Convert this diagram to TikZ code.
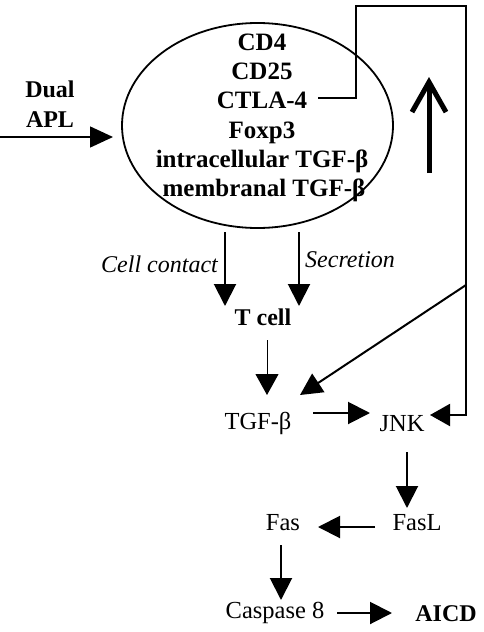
\documentclass[tikz,border=0pt]{standalone}
\usepackage{fontspec}
\setmainfont{Liberation Serif}
\usetikzlibrary{arrows.meta,shapes.geometric}
\begin{document}
\begin{tikzpicture}[x=1pt,y=-1pt,
  txt/.style={inner sep=0pt,anchor=base,font=\fontsize{24.5}{28}\selectfont},
  btxt/.style={inner sep=0pt,anchor=base,font=\fontsize{24}{28}\selectfont\bfseries},
  ctxt/.style={inner sep=0pt,anchor=base,font=\fontsize{25}{28}\selectfont\bfseries},
  itxt/.style={inner sep=0pt,anchor=base,font=\fontsize{24}{28}\selectfont\itshape},
  arr/.style={line width=2pt,-{Triangle[length=22pt,width=22pt]}},
  thinarr/.style={line width=1pt,-{Triangle[length=21pt,width=23pt]}},
  conn/.style={line width=2pt},
]
\useasboundingbox (0,0) rectangle (484,632);

% cell
\node[draw,ellipse,line width=1.8pt,minimum width=271pt,minimum height=205pt,inner sep=0pt] (cell) at (257.5,125.5) {};
\node[ctxt] (m1) at (262,50) {CD4};
\node[ctxt] (m2) at (262,79) {CD25};
\node[ctxt] (m3) at (262,108) {CTLA-4};
\node[ctxt] (m4) at (262,138) {Foxp3};
\node[ctxt] (m5) at (262,167) {intracellular TGF-β};
\node[ctxt] (m6) at (264,196) {membranal TGF-β};

% Dual APL
\node[btxt] (dual) at (50,97) {Dual};
\node[btxt] (apl) at (50,127) {APL};
\coordinate (aplsrc) at (0,137);
\coordinate (aplin) at (113,137);
\draw[line width=1.5pt,-{Triangle[length=23pt,width=21pt]}] (aplsrc) -- (aplin);

% T cell and others
\node[btxt] (tcell) at (263,325) {T cell};
\node[txt] (tgf) at (258,429) {TGF-β};
\node[txt] (jnk) at (402,431) {JNK};
\node[txt] (fasl) at (417,530) {FasL};
\node[txt] (fas) at (283,530) {Fas};
\node[txt] (casp) at (275,618) {Caspase 8};
\node[btxt] (aicd) at (446,621) {AICD};

% cell -> T cell
\coordinate (ccsrc) at (225,232);
\coordinate (cctip) at (225,306);
\coordinate (secsrc) at (299,232);
\coordinate (sectip) at (299,306);
\draw[arr] (ccsrc) -- (cctip);
\draw[arr] (secsrc) -- (sectip);
\node[itxt,anchor=base east] (cclbl) at (218,272) {Cell contact};
\node[itxt,anchor=base west] (seclbl) at (305,267) {Secretion};

% T cell -> TGF
\coordinate (tcout) at (267,340);
\coordinate (tgftop) at (267,395);
\draw[thinarr] (tcout) -- (tgftop);

% TGF -> JNK
\coordinate (tgfout) at (313,413);
\coordinate (jnkin) at (370,413);
\draw[arr] (tgfout) -- (jnkin);

% CTLA-4 feedback loop
\coordinate (ctlaout) at (318,98);
\coordinate (c1) at (356,98);
\coordinate (c2) at (356,6);
\coordinate (c3) at (466,6);
\coordinate (branch) at (466,285);
\coordinate (c4) at (466,415);
\coordinate (jnkright) at (430,415);
\coordinate (tgfdiag) at (300,395);
\draw[conn,-{Triangle[length=20pt,width=22pt]}] (ctlaout) -- (c1) -- (c2) -- (c3) -- (c4) -- (jnkright);
\draw[arr] (branch) -- (tgfdiag);

% big up arrow
\coordinate (upfrom) at (429,173);
\coordinate (upto) at (429,77);
\draw[line width=5pt,-{Straight Barb[length=30pt,width=34pt]}] (upfrom) -- (upto);

% JNK -> FasL
\coordinate (jnkout) at (407,452);
\coordinate (faslin) at (407,508);
\draw[arr] (jnkout) -- (faslin);

% FasL -> Fas
\coordinate (faslout) at (375,527);
\coordinate (fasin) at (318,527);
\draw[arr] (faslout) -- (fasin);

% Fas -> Caspase
\coordinate (fasout) at (281,545);
\coordinate (caspin) at (281,600);
\draw[arr] (fasout) -- (caspin);

% Caspase -> AICD
\coordinate (caspout) at (337,613);
\coordinate (aicdin) at (392,613);
\draw[arr] (caspout) -- (aicdin);
\end{tikzpicture}
\end{document}
